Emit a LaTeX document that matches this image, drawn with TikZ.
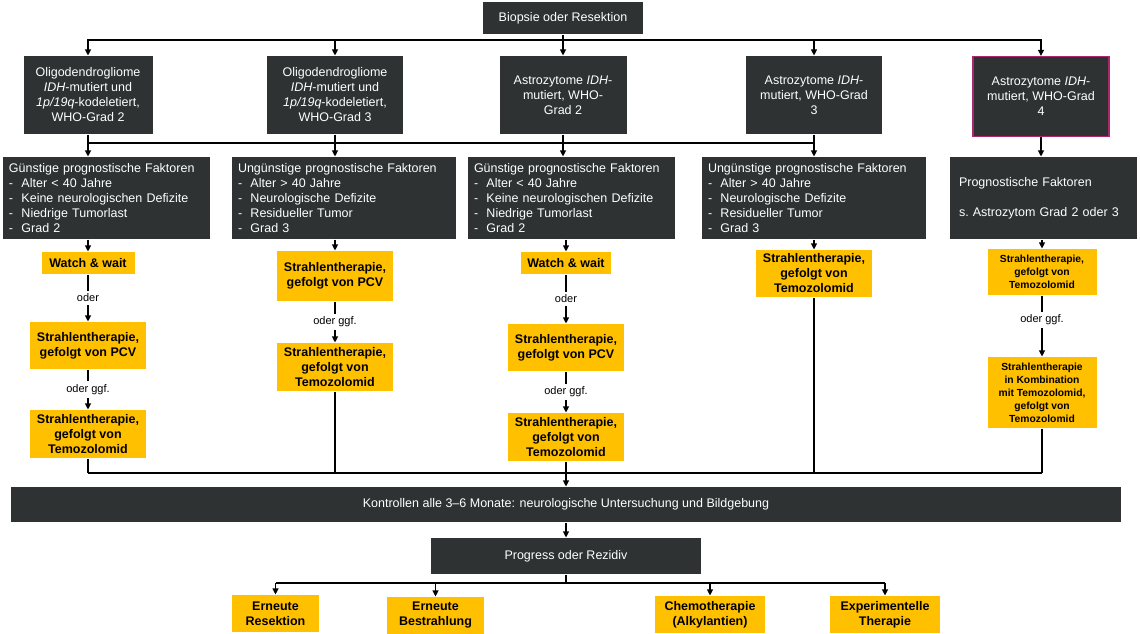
\documentclass[tikz,border=0pt]{standalone}
\usepackage{fontspec}
\setmainfont{Liberation Sans}
\usetikzlibrary{arrows.meta}
\definecolor{boxgrey}{RGB}{46,50,50}
\definecolor{boxyellow}{RGB}{255,192,0}
\definecolor{grad4}{RGB}{170,40,110}

\begin{document}
\begin{tikzpicture}[x = 1pt, y = -1pt, line width = 1.1pt, >={Triangle[length = 6pt, width = 6pt]},
    dark/.style = {fill = boxgrey, text = white, align = center, inner sep = 2pt, font = \fontsize{12.5}{15}\selectfont},
    tumor/.style = {dark, minimum width = 132pt, minimum height = 78pt},
    fak/.style = {dark, align = left, inner xsep = 6pt, minimum height = 82pt},
    yel/.style = {fill = boxyellow, align = center, inner sep = 2pt, font = \bfseries\fontsize{12.5}{15}\selectfont},
    yelsmall/.style = {yel, font = \bfseries\fontsize{10.3}{13}\selectfont},
    lbl/.style = {fill = white, inner sep = 3pt, font = \fontsize{11}{13}\selectfont}]
    \useasboundingbox (0, 0) rectangle (1140, 634);

    \node[dark, minimum width = 160pt, minimum height = 32pt](biopsie) at (563, 18) {Biopsie oder Resektion};

    \node[tumor, minimum width = 129pt](oligo2) at (88, 95) {Oligodendrogliome\\\textit{IDH}-mutiert und\\\textit{1p/19q}-kodeletiert,\\WHO-Grad 2};
    \node[tumor, minimum width = 136pt](oligo3) at (335, 95) {Oligodendrogliome\\\textit{IDH}-mutiert und\\\textit{1p/19q}-kodeletiert,\\WHO-Grad 3};
    \node[tumor, minimum width = 127pt](astro2) at (563, 95) {Astrozytome \textit{IDH}-\\mutiert, WHO-\\Grad 2};
    \node[tumor, minimum width = 136pt](astro3) at (814, 95) {Astrozytome \textit{IDH}-\\mutiert, WHO-Grad\\3};
    \node[tumor, draw = grad4, line width = 1.3pt, minimum width = 136pt, minimum height = 80pt](astro4) at (1041, 96.5) {Astrozytome \textit{IDH}-\\mutiert, WHO-Grad\\4};

    \node[fak, text width = 195pt](fak1) at (106.5, 198) {Günstige prognostische Faktoren\\-~~Alter < 40 Jahre\\-~~Keine neurologischen Defizite\\-~~Niedrige Tumorlast\\-~~Grad 2};
    \node[fak, text width = 212pt](fak2) at (344, 198) {Ungünstige prognostische Faktoren\\-~~Alter > 40 Jahre\\-~~Neurologische Defizite\\-~~Residueller Tumor\\-~~Grad 3};
    \node[fak, text width = 195pt](fak3) at (571.5, 198) {Günstige prognostische Faktoren\\-~~Alter < 40 Jahre\\-~~Keine neurologischen Defizite\\-~~Niedrige Tumorlast\\-~~Grad 2};
    \node[fak, text width = 212pt](fak4) at (814, 198) {Ungünstige prognostische Faktoren\\-~~Alter > 40 Jahre\\-~~Neurologische Defizite\\-~~Residueller Tumor\\-~~Grad 3};
    \node[fak, text width = 169pt, inner xsep = 9pt](fak5) at (1043.5, 198) {Prognostische Faktoren\\[15pt]s.\ Astrozytom Grad 2 oder 3};

    \node[yel, minimum width = 93pt, minimum height = 22pt](ww1) at (88, 263) {Watch \& wait};
    \node[yel, minimum width = 116pt, minimum height = 47pt](pcv1) at (88, 345.5) {Strahlentherapie,\\gefolgt von PCV};
    \node[yel, minimum width = 116pt, minimum height = 48pt](temo1) at (88, 434) {Strahlentherapie,\\gefolgt von\\Temozolomid};

    \node[yel, minimum width = 116pt, minimum height = 50pt](pcv2) at (335, 276) {Strahlentherapie,\\gefolgt von PCV};
    \node[yel, minimum width = 116pt, minimum height = 48pt](temo2) at (335, 367) {Strahlentherapie,\\gefolgt von\\Temozolomid};

    \node[yel, minimum width = 90pt, minimum height = 22pt](ww3) at (566, 263) {Watch \& wait};
    \node[yel, minimum width = 116pt, minimum height = 47pt](pcv3) at (566, 347.5) {Strahlentherapie,\\gefolgt von PCV};
    \node[yel, minimum width = 116pt, minimum height = 48pt](temo3) at (566, 437) {Strahlentherapie,\\gefolgt von\\Temozolomid};

    \node[yel, minimum width = 116pt, minimum height = 47pt](temo4) at (814, 273.5) {Strahlentherapie,\\gefolgt von\\Temozolomid};

    \node[yelsmall, minimum width = 109pt, minimum height = 46pt](temo5) at (1042, 272) {Strahlentherapie,\\gefolgt von\\Temozolomid};
    \node[yelsmall, minimum width = 109pt, minimum height = 71pt](kombi5) at (1042, 392.5) {Strahlentherapie\\in Kombination\\mit Temozolomid,\\gefolgt von\\Temozolomid};

    \node[dark, minimum width = 1110pt, minimum height = 35pt](kontrolle) at (566, 504.5) {Kontrollen alle 3–6 Monate: neurologische Untersuchung und Bildgebung};
    \node[dark, minimum width = 270pt, minimum height = 36pt](progress) at (566, 556) {Progress oder Rezidiv};

    \node[yel, minimum width = 87pt, minimum height = 37pt](resektion) at (275.5, 613.5) {Erneute\\Resektion};
    \node[yel, minimum width = 97pt, minimum height = 37pt](bestrahlung) at (435.5, 615.5) {Erneute\\Bestrahlung};
    \node[yel, minimum width = 110pt, minimum height = 37pt](chemo) at (710, 614.5) {Chemotherapie\\(Alkylantien)};
    \node[yel, minimum width = 110pt, minimum height = 37pt](studie) at (885, 614.5) {Experimentelle\\Therapie};

    \coordinate(topbus) at (563, 40);
    \coordinate(midbus) at (0, 143);
    \coordinate(lowbus) at (0, 473);
    \coordinate(endbus) at (0, 583);

    \draw(biopsie) -- (topbus);
    \draw[->](topbus) -| (oligo2);
    \draw[->](topbus) -| (oligo3);
    \draw[->](topbus) -- (astro2);
    \draw[->](topbus) -| (astro3);
    \draw[->](topbus) -| (astro4);

    \draw(oligo2 |- midbus) -- (astro3 |- midbus);
    \draw[->](oligo2) -- (oligo2 |- fak1.north);
    \draw[->](oligo3) -- (oligo3 |- fak2.north);
    \draw[->](astro2) -- (astro2 |- fak3.north);
    \draw[->](astro3) -- (astro3 |- fak4.north);
    \draw[->](astro4) -- (astro4 |- fak5.north);

    \draw[->](ww1 |- fak1.south) -- (ww1);
    \draw[->](pcv2 |- fak2.south) -- (pcv2);
    \draw[->](ww3 |- fak3.south) -- (ww3);
    \draw[->](temo4 |- fak4.south) -- (temo4);
    \draw[->](temo5 |- fak5.south) -- (temo5);

    \draw[->](ww1) -- node[lbl]{oder} (pcv1);
    \draw[->](pcv1) -- node[lbl]{oder ggf.} (temo1);
    \draw[->](pcv2) -- node[lbl]{oder ggf.} (temo2);
    \draw[->](ww3) -- node[lbl]{oder} (pcv3);
    \draw[->](pcv3) -- node[lbl]{oder ggf.} (temo3);
    \draw[->](temo5) -- node[lbl, pos = 0.4]{oder ggf.} (kombi5);

    \draw(temo1) -- (temo1 |- lowbus);
    \draw(temo2) -- (temo2 |- lowbus);
    \draw(temo3) -- (temo3 |- lowbus);
    \draw(temo4) -- (temo4 |- lowbus);
    \draw(kombi5) -- (kombi5 |- lowbus);
    \draw(temo1 |- lowbus) -- (kombi5 |- lowbus);
    \draw[->](kontrolle |- lowbus) -- (kontrolle);

    \draw[->](kontrolle) -- (progress);
    \draw(progress) -- (progress |- endbus);
    \draw(resektion |- endbus) -- (studie |- endbus);
    \draw[->](resektion |- endbus) -- (resektion);
    \draw[->](bestrahlung |- endbus) -- (bestrahlung);
    \draw[->](chemo |- endbus) -- (chemo);
    \draw[->](studie |- endbus) -- (studie);
\end{tikzpicture}
\end{document}
